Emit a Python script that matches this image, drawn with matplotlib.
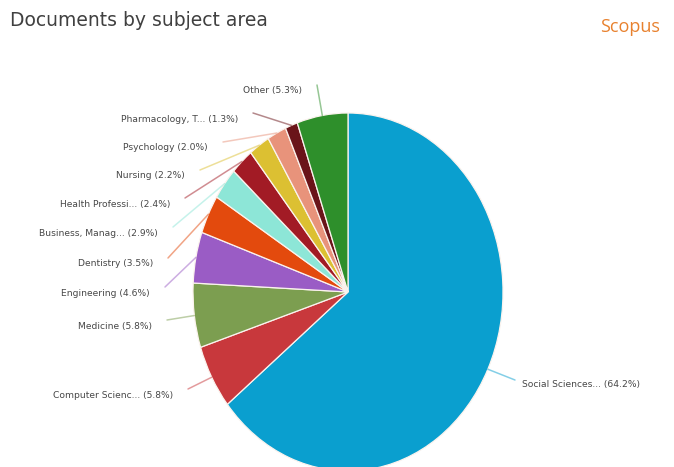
import matplotlib
matplotlib.use("Agg")
import matplotlib.pyplot as plt
import numpy as np

# Subject areas, clockwise from 12 o'clock
categories = [
    "Social Sciences...", "Computer Scienc...", "Medicine", "Engineering",
    "Dentistry", "Business, Manag...", "Health Professi...", "Nursing",
    "Psychology", "Pharmacology, T...", "Other",
]
shares = [64.2, 5.8, 5.8, 4.6, 3.5, 2.9, 2.4, 2.2, 2.0, 1.3, 5.3]
colors = [
    "#0a9fcf", "#c8383c", "#7c9e50", "#9a5cc5", "#e34a0d", "#8de6d7",
    "#a21b25", "#dcc032", "#e8937b", "#6a1419", "#2e8f2b",
]

# Leader-line end points (figure pixels from top-left)
label_ends = [
    (515, 380), (188, 389), (167, 320), (165, 287), (168, 258), (173, 227),
    (185, 198), (200, 170), (223, 142), (253, 113), (317, 85),
]

W, H = 674, 467
cx, cy = 348, 292          # pie centre in pixels (from top)
rx, ry = 155, 179          # horizontal / vertical radius in pixels

fig = plt.figure(figsize=(W / 100, H / 100), dpi=100)
fig.patch.set_facecolor("white")
ax = fig.add_axes([0, 0, 1, 1])

wedges, _ = ax.pie(
    shares, colors=colors, startangle=90, counterclock=False, radius=1.0,
    wedgeprops=dict(edgecolor="#fbf3ee", linewidth=0.9),
)
ax.set_aspect("auto")
ax.set_xlim(-cx / rx, (W - cx) / rx)
ax.set_ylim(-(H - cy) / ry, cy / ry)
ax.axis("off")


def px_to_data(px, py):
    return (px - cx) / rx, (cy - py) / ry


for w, name, val, col, (ex, ey) in zip(wedges, categories, shares, colors, label_ends):
    mid = np.deg2rad((w.theta1 + w.theta2) / 2)
    sx, sy = np.cos(mid), np.sin(mid)
    tx, ty = px_to_data(ex, ey)
    ax.plot([sx, tx], [sy, ty], color=col, alpha=0.5, lw=1.1,
            solid_capstyle="round")
    label = f"{name} ({val:.1f}%)"
    if ex > cx:
        lx, ly = px_to_data(ex + 7, ey + 4)
        ha = "left"
    else:
        lx, ly = px_to_data(ex - 15, ey + 6)
        ha = "right"
    ax.text(lx, ly, label, ha=ha, va="center", fontsize=6.6,
            color="#474747", family="DejaVu Sans")

fig.text(10 / W, 1 - 21 / H, "Documents by subject area", ha="left",
         va="center", fontsize=13.5, color="#404040", family="DejaVu Sans")
fig.text(660 / W, 1 - 27 / H, "Scopus", ha="right", va="center",
         fontsize=13, color="#e8812e", family="Open Sans")

fig.savefig("out.png", dpi=100, facecolor="white")
